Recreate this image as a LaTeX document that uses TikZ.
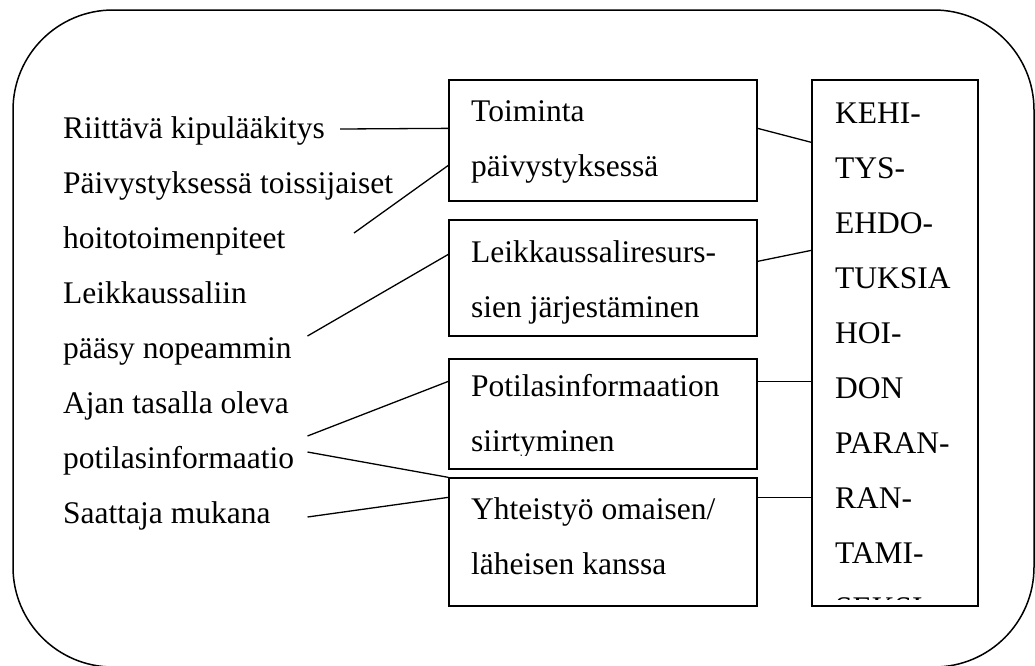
\documentclass[tikz,border=0pt]{standalone}
\usepackage{fontspec}
\setmainfont{Liberation Serif}
\begin{document}
\begin{tikzpicture}[x=1pt,y=-1pt,
  txt/.style={anchor=base west, inner sep=0pt, font=\fontsize{31.5}{38}\selectfont},
  box/.style={draw, line width=1.3pt, inner sep=0pt},
  link/.style={draw, line width=1.3pt}]
\useasboundingbox (0,0) rectangle (1035,665);
% outer rounded frame
\draw[line width=1.5pt, rounded corners=100pt] (13,10) rectangle (1034,667);

% boxes
\node[box, minimum width=308pt, minimum height=121pt] (b1) at (603,140.5) {};
\node[box, minimum width=308pt, minimum height=116pt] (b2) at (603,278) {};
\node[box, minimum width=308pt, minimum height=110pt] (b3) at (603,414) {};
\node[box, minimum width=308pt, minimum height=128pt] (b4) at (603,542) {};
\node[box, minimum width=166pt, minimum height=526pt] (rb) at (895,343) {};

% left texts
\node[txt] (t1) at (63,138) {Riittävä kipulääkitys};
\node[txt] (t2) at (63,193) {Päivystyksessä toissijaiset};
\node[txt] (t3) at (63,248) {hoitotoimenpiteet};
\node[txt] (t4) at (63,303) {Leikkaussaliin};
\node[txt] (t5) at (63,358) {pääsy nopeammin};
\node[txt] (t6) at (63,413) {Ajan tasalla oleva};
\node[txt] (t7) at (63,468) {potilasinformaatio};
\node[txt] (t8) at (63,523) {Saattaja mukana};

% box texts
\node[txt] (b1a) at (471,121) {Toiminta};
\node[txt] (b1b) at (471,176) {päivystyksessä};
\node[txt] (b2a) at (471,262) {Leikkaussaliresurs-};
\node[txt] (b2b) at (471,317) {sien järjestäminen};
\node[txt] (b3a) at (471,396) {Potilasinformaation};
\begin{scope}
\clip (449,359) rectangle (757,455);
\node[txt] (b3b) at (471,451) {siirtyminen};
\end{scope}
\node[txt] (b4a) at (471,519) {Yhteistyö omaisen/};
\node[txt] (b4b) at (471,574) {läheisen kanssa};

% right box text
\begin{scope}
\clip (812,80) rectangle (978,599);
\node[txt] (r1) at (835,123) {KEHI-};
\node[txt] (r2) at (835,178) {TYS-};
\node[txt] (r3) at (835,233) {EHDO-};
\node[txt] (r4) at (835,288) {TUKSIA};
\node[txt] (r5) at (835,343) {HOI-};
\node[txt] (r6) at (835,398) {DON};
\node[txt] (r7) at (835,453) {PARAN-};
\node[txt] (r8) at (835,508) {RAN-};
\node[txt] (r9) at (835,563) {TAMI-};
\node[txt] (r10) at (835,618) {SEKSI};
\end{scope}

% free ends of connectors
\coordinate (c1) at (340,129);
\coordinate (c2) at (354,233);
\coordinate (c3) at (307.5,336);
\coordinate (c4) at (307.5,436);
\coordinate (c5) at (307.5,452);
\coordinate (c6) at (307.5,517);

% left connectors
\draw[link] (c1) -- ([yshift=-49pt]b1.north west);
\draw[link] (c2) -- ([yshift=-86pt]b1.north west);
\draw[link] (c3) -- ([yshift=-35pt]b2.north west);
\draw[link] (c4) -- ([yshift=-23pt]b3.north west);
\draw[link] (c5) -- (b4.north west);
\draw[link] (c6) -- ([yshift=-20pt]b4.north west);

% right connectors
\draw[link] ([yshift=-49pt]b1.north east) -- ([yshift=-63pt]rb.north west);
\draw[link] ([yshift=-42pt]b2.north east) -- ([yshift=-171pt]rb.north west);
\draw[link] ([yshift=-23pt]b3.north east) -- ([yshift=-302pt]rb.north west);
\draw[link] ([yshift=-20pt]b4.north east) -- ([yshift=-418pt]rb.north west);
\end{tikzpicture}
\end{document}
